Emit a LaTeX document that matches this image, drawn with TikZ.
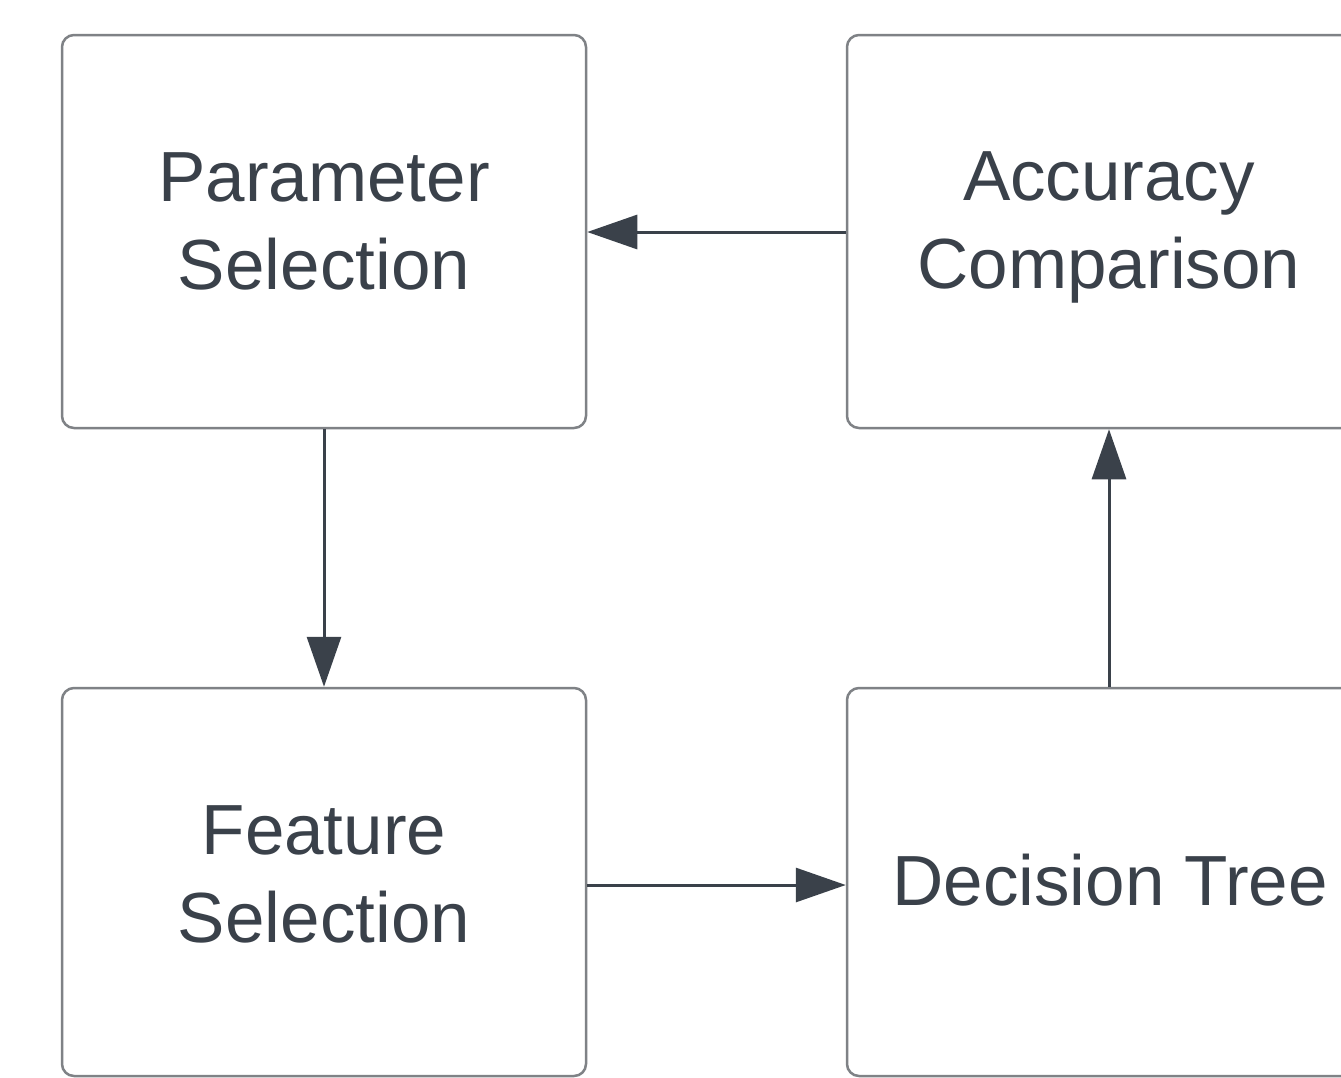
\documentclass[tikz,border=0pt]{standalone}
\usepackage{fontspec}
\setmainfont{Liberation Sans}
\usetikzlibrary{arrows.meta}
\definecolor{boxline}{HTML}{7F8286}
\definecolor{ink}{HTML}{3A414A}
\tikzset{
  box/.style={draw=boxline, line width=2.5pt, rounded corners=12pt, minimum width=524pt, minimum height=388pt, inner sep=0pt},
  lbl/.style={text=ink, font=\fontsize{71}{88}\selectfont, align=center, inner sep=0pt},
  conn/.style={draw=ink, line width=3pt, -{Triangle[length=50pt,width=34pt]}},
}
\begin{document}
\begin{tikzpicture}[x=1pt,y=-1pt]
\useasboundingbox (0,0) rectangle (1341,1077);
\clip (0,0) rectangle (1341,1077);
\fill[white] (0,0) rectangle (1341,1077);
\node[box, minimum height=393pt] (p) at (324,231.5) {};
\node[box, minimum height=393pt] (a) at (1109,231.5) {};
\node[box] (f) at (324,882) {};
\node[box] (d) at (1109,882) {};
\node[lbl] (pt) at (324,221) {Parameter\\Selection};
\node[lbl] (at) at (1109,227) {Accuracy\\Comparison};
\node[lbl] (ft) at (324,874) {Feature\\Selection};
\node[lbl] (dt) at (1110,880) {Decision Tree};
\draw[conn] (a.west |- 0,232) -- (p.east |- 0,232);
\draw[conn] (p.south) -- (f.north);
\draw[conn] (f.east |- 0,885) -- (d.west |- 0,885);
\draw[conn] (d.north) -- (a.south);
\end{tikzpicture}
\end{document}
